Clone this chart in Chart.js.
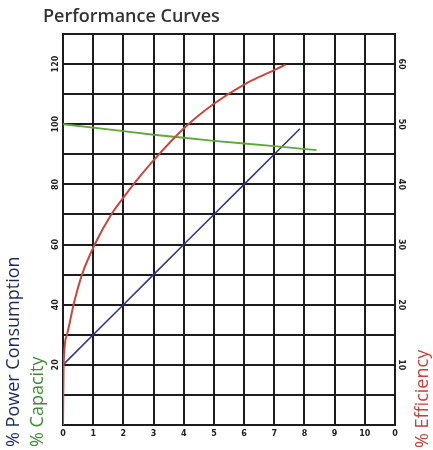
<!DOCTYPE html>
<html>
<head>
<meta charset="utf-8">
<script src="https://cdn.jsdelivr.net/npm/chart.js@4.4.1/dist/chart.umd.min.js"></script>
<style>
  body { margin: 0; background: #fff; }
  canvas { display: block; }
</style>
</head>
<body>
<canvas id="perfChart" width="433" height="450"></canvas>
<script>
//Data
var powerX = [0, 1, 2, 3, 4, 5, 6, 7, 7.85];
var powerY = [20, 30, 40, 50, 60, 70, 80, 90, 98.5];

var capacityX = [0, 1, 2, 3, 4, 5, 6, 7, 8.4];
var capacityY = [100, 98.9, 97.7, 96.5, 95.5, 94.5, 93.6, 92.7, 91.4];

var efficiencyX = [0, 0.02, 0.13, 0.35, 0.63, 1.05, 1.6, 2, 2.35, 3, 4, 5, 6, 7, 7.37];
var efficiencyY = [0, 10, 15, 20, 25, 30, 35, 37.8, 40.1, 44, 49.3, 53.4, 56.6, 59, 59.9];

//Tick labels
var xTickLabels = ['0', '1', '2', '3', '4', '5', '6', '7', '8', '9', '10', '0'];
var leftTickLabels = [20, 40, 60, 80, 100, 120];
var rightTickLabels = [10, 20, 30, 40, 50, 60];

function toPoints(xs, ys) {
  return xs.map(function (x, i) { return {x: x, y: ys[i]}; });
}

var gridColor = '#1c1c1c';
var tickFont = {family: '"DejaVu Sans"', size: 8, weight: 'bold'};

//Titles drawn straight on the canvas (the right one reads bottom to top)
var titlesPlugin = {
  id: 'titles',
  afterDraw: function (chart) {
    var ctx = chart.ctx;
    ctx.save();
    ctx.fillStyle = '#333333';
    ctx.font = '600 18px "Open Sans"';
    ctx.textAlign = 'left';
    ctx.textBaseline = 'alphabetic';
    ctx.fillText('Performance Curves', 43, 22);

    var side = [
      {text: '% Power Consumption', x: 14, y: 447, color: '#1f2b5c'},
      {text: '% Capacity', x: 38, y: 447, color: '#3f8c34'},
      {text: '% Efficiency', x: 423, y: 448, color: '#c0443a'}
    ];
    ctx.font = '18px "Open Sans"';
    ctx.textBaseline = 'middle';
    side.forEach(function (t) {
      ctx.save();
      ctx.translate(t.x, t.y);
      ctx.rotate(-Math.PI / 2);
      ctx.fillStyle = t.color;
      ctx.fillText(t.text, 0, 0);
      ctx.restore();
    });
    ctx.restore();
  }
};

var perfChart = new Chart(document.getElementById('perfChart'), {
  type: 'line',
  data: {
    datasets: [
      {
        label: '% Efficiency',
        data: toPoints(efficiencyX, efficiencyY),
        yAxisID: 'y2',
        borderColor: '#c8473d',
        borderWidth: 2,
        cubicInterpolationMode: 'monotone',
        pointRadius: 0
      },
      {
        label: '% Capacity',
        data: toPoints(capacityX, capacityY),
        yAxisID: 'y',
        borderColor: '#5fa83a',
        borderWidth: 1.8,
        tension: 0,
        pointRadius: 0
      },
      {
        label: '% Power Consumption',
        data: toPoints(powerX, powerY),
        yAxisID: 'y',
        borderColor: '#30378a',
        borderWidth: 1.6,
        tension: 0,
        pointRadius: 0
      }
    ]
  },
  options: {
    responsive: false,
    animation: false,
    layout: {padding: {top: 34, left: 0, right: 0, bottom: 0}, autoPadding: false},
    plugins: {
      legend: {display: false},
      tooltip: {enabled: false}
    },
    scales: {
      x: {
        type: 'linear',
        min: 0,
        max: 11,
        afterFit: function (s) { s.height = 25; },
        grid: {color: gridColor, lineWidth: 2, drawTicks: false},
        border: {color: gridColor, width: 2},
        ticks: {
          stepSize: 1,
          padding: 4,
          color: '#222',
          font: tickFont,
          maxRotation: 0,
          autoSkip: false,
          callback: function (v, i) { return xTickLabels[i]; }
        }
      },
      y: {
        position: 'left',
        min: 0,
        max: 130,
        afterFit: function (s) { s.width = 63; },
        grid: {color: gridColor, lineWidth: 2, drawTicks: false},
        border: {color: gridColor, width: 2},
        ticks: {
          stepSize: 10,
          padding: -1,
          crossAlign: 'center',
          minRotation: 90,
          maxRotation: 90,
          color: '#222',
          font: tickFont,
          autoSkip: false,
          callback: function (v) { return leftTickLabels.indexOf(v) >= 0 ? String(v) : ''; }
        }
      },
      y2: {
        position: 'right',
        min: 0,
        max: 65,
        afterFit: function (s) { s.width = 38; },
        grid: {display: false, drawTicks: false},
        border: {color: gridColor, width: 2},
        ticks: {
          stepSize: 10,
          padding: 1,
          crossAlign: 'center',
          minRotation: -90,
          maxRotation: -90,
          color: '#222',
          font: tickFont,
          autoSkip: false,
          callback: function (v) { return rightTickLabels.indexOf(v) >= 0 ? String(v) : ''; }
        }
      }
    }
  },
  plugins: [titlesPlugin]
});
</script>
</body>
</html>
